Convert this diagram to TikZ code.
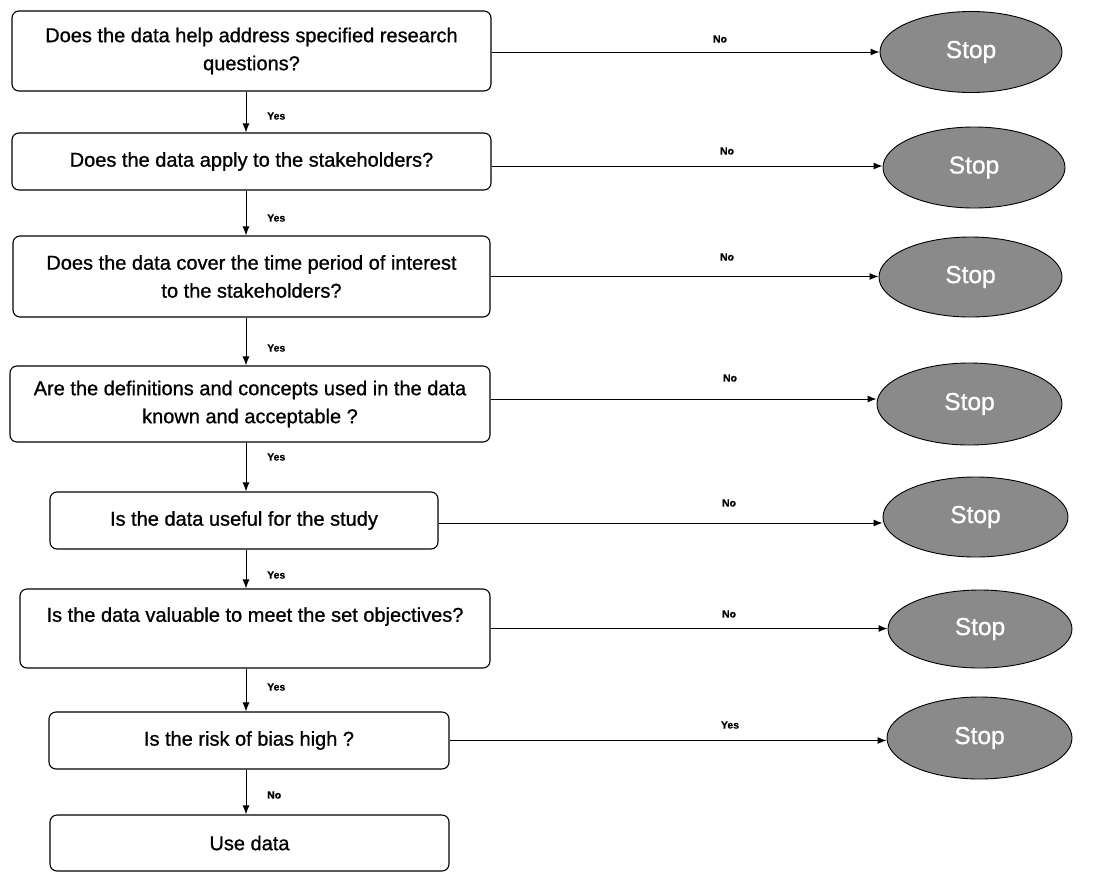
\documentclass[tikz,border=0pt]{standalone}
\usepackage{fontspec}
\setmainfont{Liberation Sans}
\newfontfamily\boxfont{Liberation Sans}[FakeBold=0.9]
\newfontfamily\lblfont{Liberation Sans}[FakeBold=0.6]
\usetikzlibrary{shapes.geometric,arrows.meta}
\definecolor{stopgray}{RGB}{138,138,138}
\begin{document}
\begin{tikzpicture}[x=1pt,y=-1pt,
  box/.style={draw=black,line width=1.1pt,rounded corners=7pt,inner sep=0pt,align=center,
    font=\boxfont\fontsize{20}{28}\selectfont},
  stopnode/.style={ellipse,draw=black,line width=0.9pt,fill=stopgray,inner sep=0pt,
    text=white,font=\boxfont\fontsize{24.5}{26}\selectfont},
  arr/.style={line width=1pt,-{Latex[length=9pt,width=7pt]}},
  lbl/.style={font=\lblfont\fontsize{10.5}{12}\selectfont\bfseries,inner sep=0pt}]
\useasboundingbox (0,0) rectangle (1111,873);
% decision boxes
\node[box,minimum width=479,minimum height=80] (b1) at (251.5,51) {Does the data help address specified research\\questions?};
\node[box,minimum width=479,minimum height=57] (b2) at (251.5,161.5) {Does the data apply to the stakeholders?};
\node[box,minimum width=477,minimum height=81] (b3) at (251.5,276.5) {Does the data cover the time period of interest\\to the stakeholders?};
\node[box,minimum width=480,minimum height=76] (b4) at (250,404) {Are the definitions and concepts used in the data\\known and acceptable ?};
\node[box,minimum width=388,minimum height=57] (b5) at (244,520.5) {Is the data useful for the study};
\node[box,minimum width=470,minimum height=79] (b6) at (255,628.5) {Is the data valuable to meet the set objectives?\\\phantom{I}};
\node[box,minimum width=400,minimum height=57] (b7) at (249,740.5) {Is the risk of bias high ?};
\node[box,minimum width=399,minimum height=56] (b8) at (249.5,843) {Use data};
% stop ellipses
\node[stopnode,minimum width=182,minimum height=81] (s1) at (971,52) {Stop};
\node[stopnode,minimum width=182,minimum height=81] (s2) at (974,167.5) {Stop};
\node[stopnode,minimum width=183,minimum height=80] (s3) at (970.5,277) {Stop};
\node[stopnode,minimum width=185,minimum height=82] (s4) at (969.5,404) {Stop};
\node[stopnode,minimum width=185,minimum height=80] (s5) at (975.5,517) {Stop};
\node[stopnode,minimum width=184,minimum height=78] (s6) at (980,629) {Stop};
\node[stopnode,minimum width=185,minimum height=82] (s7) at (979.5,738) {Stop};
% vertical axis of the main flow
\coordinate (ax) at (246,0);
\draw[arr] (b1.south -| ax) -- (b2.north -| ax);
\draw[arr] (b2.south -| ax) -- (b3.north -| ax);
\draw[arr] (b3.south -| ax) -- (b4.north -| ax);
\draw[arr] (b4.south -| ax) -- (b5.north -| ax);
\draw[arr] (b5.south -| ax) -- (b6.north -| ax);
\draw[arr] (b6.south -| ax) -- (b7.north -| ax);
\draw[arr] (b7.south -| ax) -- (b8.north -| ax);
\node[lbl,anchor=west] (y1) at (267,116) {Yes};
\node[lbl,anchor=west] (y2) at (267,218) {Yes};
\node[lbl,anchor=west] (y3) at (267,348) {Yes};
\node[lbl,anchor=west] (y4) at (267,457) {Yes};
\node[lbl,anchor=west] (y5) at (267,575) {Yes};
\node[lbl,anchor=west] (y6) at (267,687) {Yes};
\node[lbl,anchor=west] (n7) at (267,795) {No};
% horizontal arrows to stop
\draw[arr] ([yshift=-1]b1.east) -- ([yshift=-1]b1.east -| s1.west);
\draw[arr] ([yshift=-4.5]b2.east) -- ([yshift=-4.5]b2.east -| s2.west);
\draw[arr] (b3.east) -- (b3.east -| s3.west);
\draw[arr] ([yshift=5]b4.east) -- ([yshift=5]b4.east -| s4.west);
\draw[arr] ([yshift=-2.5]b5.east) -- ([yshift=-2.5]b5.east -| s5.west);
\draw[arr] (b6.east) -- (b6.east -| s6.west);
\draw[arr] (b7.east) -- (b7.east -| s7.west);
\node[lbl] (l1) at (720,39) {No};
\node[lbl] (l2) at (727,151) {No};
\node[lbl] (l3) at (727,257) {No};
\node[lbl] (l4) at (730,378) {No};
\node[lbl] (l5) at (729,503) {No};
\node[lbl] (l6) at (729,614) {No};
\node[lbl] (l7) at (730,725) {Yes};
\end{tikzpicture}
\end{document}
